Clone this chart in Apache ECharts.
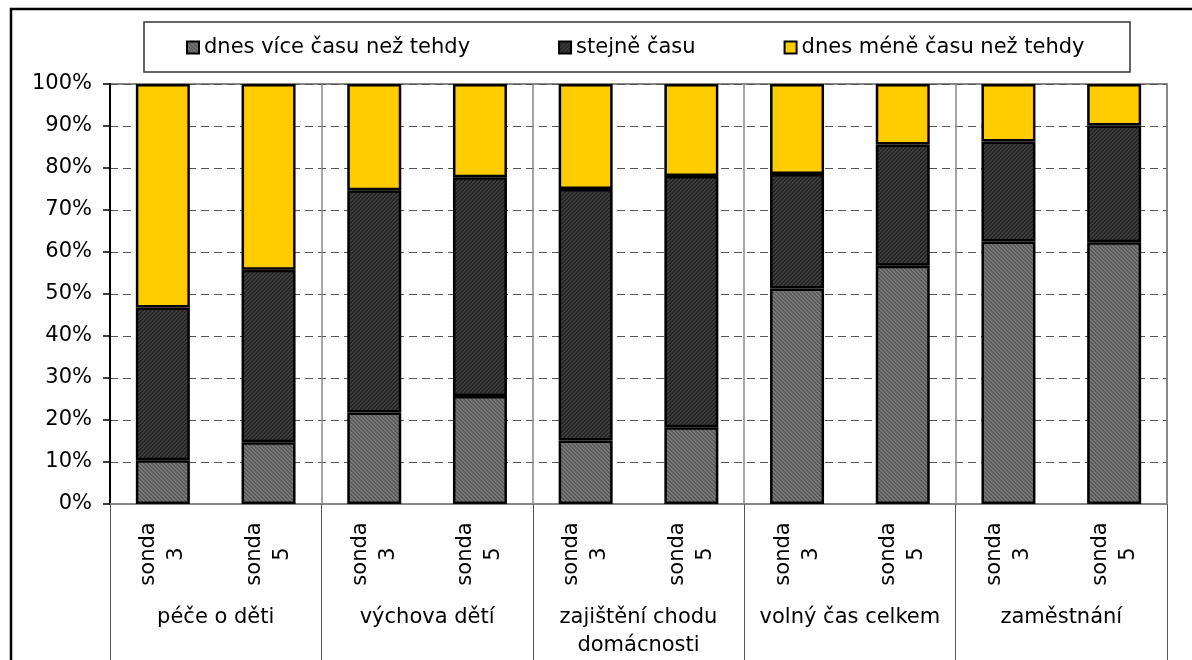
<!DOCTYPE html>
<html>
<head>
<meta charset="utf-8">
<script src="https://cdn.jsdelivr.net/npm/echarts@6/dist/echarts.min.js"></script>
<style>
  html, body { margin: 0; padding: 0; background: #fff; }
  #chart { width: 1192px; height: 660px; }
</style>
</head>
<body>
<div id="chart"></div>
<script>
// data (percent of respondents)
const categories = [
  'sonda\n3', 'sonda\n5', 'sonda\n3', 'sonda\n5', 'sonda\n3',
  'sonda\n5', 'sonda\n3', 'sonda\n5', 'sonda\n3', 'sonda\n5'
];
const groups = ['péče o děti', 'výchova dětí', 'zajištění chodu\ndomácnosti', 'volný čas celkem', 'zaměstnání'];
const seriesNames = ['dnes více času než tehdy', 'stejně času', 'dnes méně času než tehdy'];
const moreTime = [10.4, 14.7, 21.8, 25.7, 15.1, 18.3, 51.3, 56.7, 62.5, 62.3];
const sameTime = [36.4, 41.1, 52.9, 52.1, 59.9, 59.8, 27.3, 28.9, 23.8, 27.8];
const lessTime = [53.2, 44.2, 25.3, 22.2, 25.0, 21.9, 21.4, 14.4, 13.7, 9.9];

const FONT = 'DejaVu Sans';
const FS = 21;

// hatch fill, like the old excel patterns
function hatch(base, line, dir) {
  const size = 4;
  const c = document.createElement('canvas');
  c.width = size;
  c.height = size;
  const ctx = c.getContext('2d');
  ctx.fillStyle = base;
  ctx.fillRect(0, 0, size, size);
  ctx.fillStyle = line;
  for (let x = 0; x < size; x++) {
    for (let y = 0; y < size; y++) {
      const k = dir > 0 ? (x + y) % size : (x - y + size) % size;
      if (k < 2) ctx.fillRect(x, y, 1, 1);
    }
  }
  return { image: c, repeat: 'repeat' };
}

const fills = [
  hatch('#777777', '#5c5c5c', -1),
  hatch('#3c3c3c', '#262626', 1),
  '#ffcc00'
];
const values = [moreTime, sameTime, lessTime];

const myChart = echarts.init(document.getElementById('chart'));

const option = {
  backgroundColor: '#fff',
  animation: false,
  textStyle: { fontFamily: FONT, color: '#000' },
  graphic: [
    {
      type: 'rect', silent: true, z: 0,
      shape: { x: 11, y: 9, width: 1200, height: 700 },
      style: { fill: 'none', stroke: '#000', lineWidth: 2.5 }
    },
    {
      type: 'rect', silent: true, z: 0,
      shape: { x: 144, y: 22, width: 986, height: 50 },
      style: { fill: '#fff', stroke: '#333', lineWidth: 1.5 }
    }
  ],
  legend: {
    left: 186,
    top: 37,
    icon: 'rect',
    itemWidth: 12,
    itemHeight: 12,
    itemGap: 88,
    padding: 0,
    textStyle: { fontFamily: FONT, fontSize: FS, color: '#000' },
    data: seriesNames
  },
  grid: {
    left: 110,
    right: 25,
    top: 84,
    bottom: 156,
    show: true,
    borderColor: '#888',
    borderWidth: 2
  },
  xAxis: [
    {
      type: 'category',
      data: categories,
      position: 'bottom',
      axisLine: { lineStyle: { color: '#888', width: 2 } },
      axisTick: { show: false },
      splitLine: { show: false },
      axisLabel: {
        interval: 0,
        rotate: 90,
        align: 'center',
        verticalAlign: 'middle',
        margin: 50,
        lineHeight: 28,
        fontSize: FS,
        fontFamily: FONT,
        color: '#000'
      }
    },
    {
      type: 'category',
      data: groups,
      position: 'bottom',
      axisLine: { show: false },
      axisTick: { show: true, interval: 0, length: 156, lineStyle: { color: '#555', width: 1 } },
      splitLine: { show: true, interval: 0, lineStyle: { color: '#888', width: 1.5 } },
      axisLabel: {
        interval: 0,
        margin: 100,
        verticalAlign: 'top',
        lineHeight: 28,
        fontSize: FS,
        fontFamily: FONT,
        color: '#000'
      }
    }
  ],
  yAxis: {
    type: 'value',
    min: 0,
    max: 100,
    interval: 10,
    axisLine: { show: true, lineStyle: { color: '#000', width: 2 } },
    axisTick: { show: true, length: 7, lineStyle: { color: '#000', width: 1.5 } },
    splitLine: { lineStyle: { color: '#555', width: 1, type: [8, 5] } },
    axisLabel: {
      formatter: '{value}%',
      margin: 18,
      fontSize: FS,
      fontFamily: FONT,
      color: '#000'
    }
  },
  series: seriesNames.map((name, i) => ({
    name: name,
    type: 'bar',
    stack: 'total',
    xAxisIndex: 0,
    barWidth: 54,
    data: values[i],
    itemStyle: { color: fills[i], borderColor: '#000', borderWidth: 2.5 }
  }))
};

option && myChart.setOption(option);
</script>
</body>
</html>
